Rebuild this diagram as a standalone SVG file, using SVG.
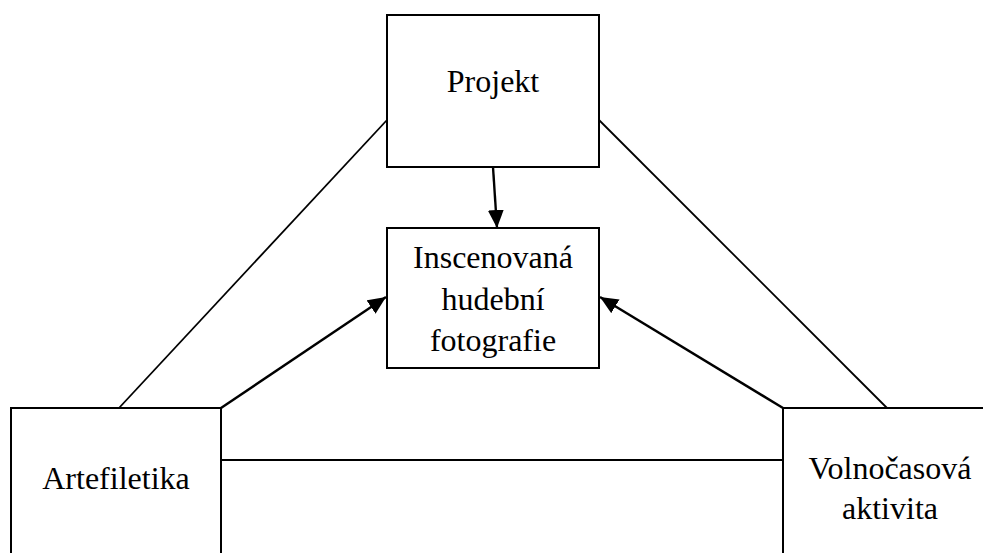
<svg xmlns="http://www.w3.org/2000/svg" width="983" height="553" viewBox="0 0 983 553">
<style>
.box{fill:#fff;stroke:#000;stroke-width:2}
.ln{fill:none;stroke:#000;stroke-width:1.8}
.ar{fill:none;stroke:#000;stroke-width:2.4;marker-end:url(#ah)}
.t{font-size:32px;fill:#000;text-anchor:middle}
</style>
<defs>
<marker id="ah" markerWidth="18" markerHeight="16" refX="18" refY="8" orient="auto" markerUnits="userSpaceOnUse">
<path d="M0,0 L18,8 L0,16 Z" fill="#000"/>
</marker>
</defs>
<rect width="983" height="553" fill="#fff"/>
<g id="connectors">
<line class="ln" x1="119" y1="408" x2="387" y2="120"/>
<line class="ln" x1="599" y1="120" x2="887" y2="408"/>
<line class="ln" x1="221" y1="460" x2="783" y2="460"/>
<line class="ar" x1="493" y1="167" x2="497" y2="228"/>
<line class="ar" x1="221" y1="408" x2="386" y2="297"/>
<line class="ar" x1="783" y1="408" x2="600" y2="297"/>
</g>
<g id="projekt" font-family="'Liberation Serif', 'Times New Roman', 'DejaVu Serif', serif">
<rect class="box" x="387" y="15" width="212" height="152"/>
<text class="t" x="493" y="92">Projekt</text>
</g>
<g id="inscenovana" font-family="'Liberation Serif', 'Times New Roman', 'DejaVu Serif', serif">
<rect class="box" x="387" y="228" width="212" height="140"/>
<text class="t" x="493" y="268">Inscenovaná</text>
<text class="t" x="493" y="310">hudební</text>
<text class="t" x="493" y="351">fotografie</text>
</g>
<g id="artefiletika" font-family="'Liberation Serif', 'Times New Roman', 'DejaVu Serif', serif">
<rect class="box" x="11" y="408" width="210" height="160"/>
<text class="t" x="116" y="489">Artefiletika</text>
</g>
<g id="volnocasova" font-family="'Liberation Serif', 'Times New Roman', 'DejaVu Serif', serif">
<rect class="box" x="783" y="408" width="220" height="160"/>
<text class="t" x="890" y="479">Volnočasová</text>
<text class="t" x="890" y="519">aktivita</text>
</g>
</svg>
